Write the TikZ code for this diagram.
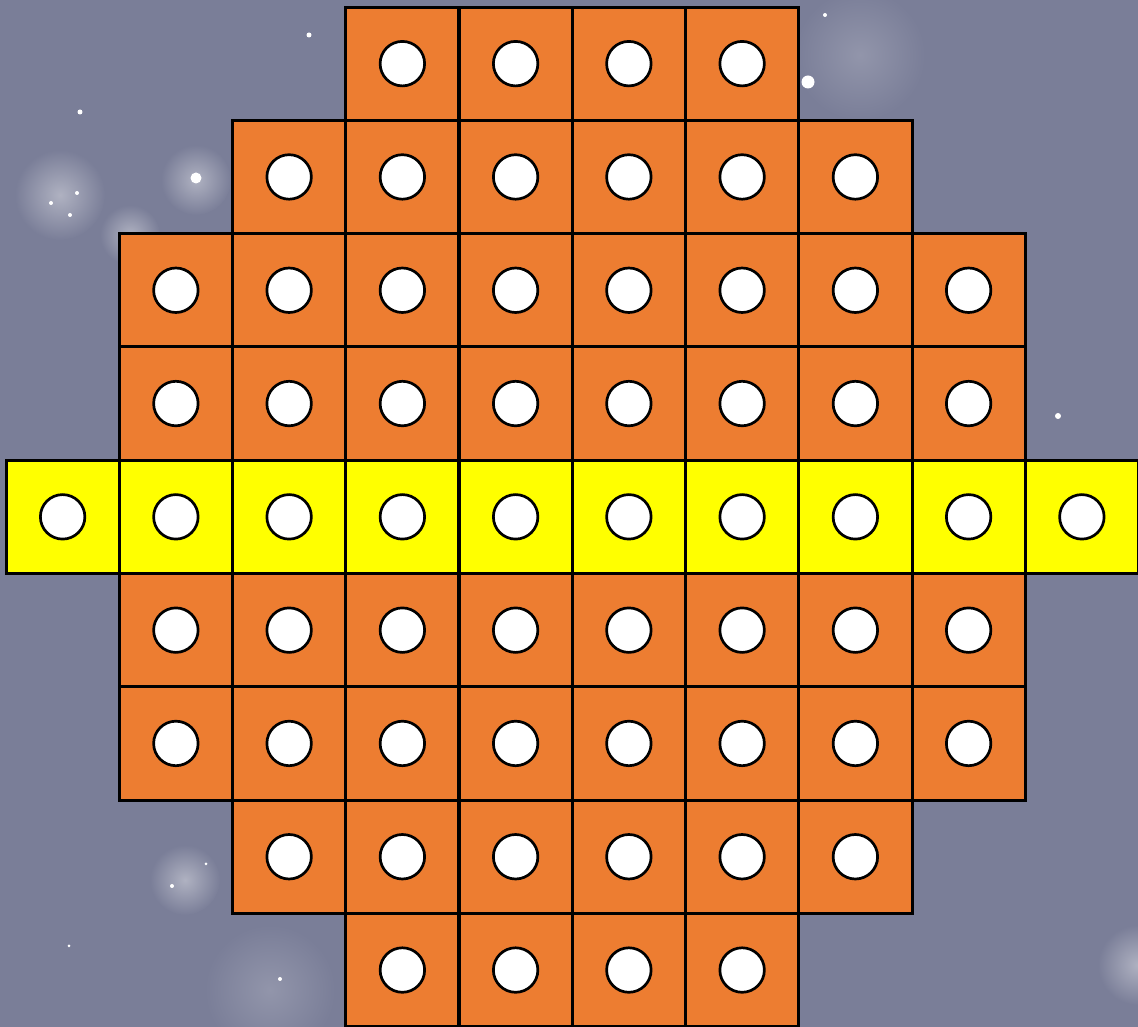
\documentclass[tikz,border=0pt]{standalone}
\usepackage{tikz}
\usetikzlibrary{positioning}
\definecolor{skyBg}{RGB}{122,126,152}
\definecolor{cellOrange}{RGB}{237,125,49}
\definecolor{cellYellow}{RGB}{255,255,0}
\tikzset{
    cell/.style={rectangle, draw=black, line width=0.3mm, fill=cellOrange,
                 minimum size=11.325mm, inner sep=0pt, outer sep=0pt},
    midcell/.style={cell, fill=cellYellow},
    hole/.style={circle, draw=black, line width=0.27mm, fill=white,
                 minimum size=4.45mm, inner sep=0pt},
    star/.style={circle, fill=white, inner sep=0pt},
    glow/.style={circle, inner sep=0pt, inner color=white!40!skyBg, outer color=skyBg},
    haze/.style={glow, inner color=white!18!skyBg}
}

\begin{document}
\begin{tikzpicture}[x=0.1mm, y=-0.1mm]
  \clip (0,0) rectangle (1138,1027);
  \fill[skyBg] (0,0) rectangle (1138,1027);

  % sky
  \node[glow, minimum size=9mm] (g1) at (60,195) {};
  \node[glow, minimum size=7mm] (g2) at (196,180) {};
  \node[glow, minimum size=6mm] (g3) at (130,235) {};
  \node[glow, minimum size=7mm] (g4) at (185,880) {};
  \node[glow, minimum size=8mm] (g5) at (1138,965) {};
  \node[haze, minimum size=13mm] (g6) at (860,55) {};
  \node[haze, minimum size=13mm] (g7) at (270,990) {};
  \foreach \sx/\sy/\sr in {309/35/0.5, 80/112/0.5, 196/178/1.1, 51/203/0.4, 77/193/0.4,
                           70/215/0.4, 808/82/1.3, 825/15/0.4, 1058/416/0.6,
                           172/886/0.4, 206/864/0.3, 69/946/0.3, 280/979/0.4}
    \node[star, minimum size=\sr mm] at (\sx,\sy) {};

  % board
  \foreach \r/\a/\b in {0/3/6, 1/2/7, 2/1/8, 3/1/8, 5/1/8, 6/1/8, 7/2/7, 8/3/6} {
    \foreach \c in {\a,...,\b} {
      \node[cell] (c-\r-\c) at ({6+113.25*(\c+0.5)},{7+113.3*(\r+0.5)}) {};
      \node[hole] (h-\r-\c) at (c-\r-\c) {};
    }
  }
  \foreach \c in {0,...,9} {
    \node[midcell] (c-4-\c) at ({6+113.25*(\c+0.5)},{7+113.3*4.5}) {};
    \node[hole] (h-4-\c) at (c-4-\c) {};
  }
\end{tikzpicture}
\end{document}
